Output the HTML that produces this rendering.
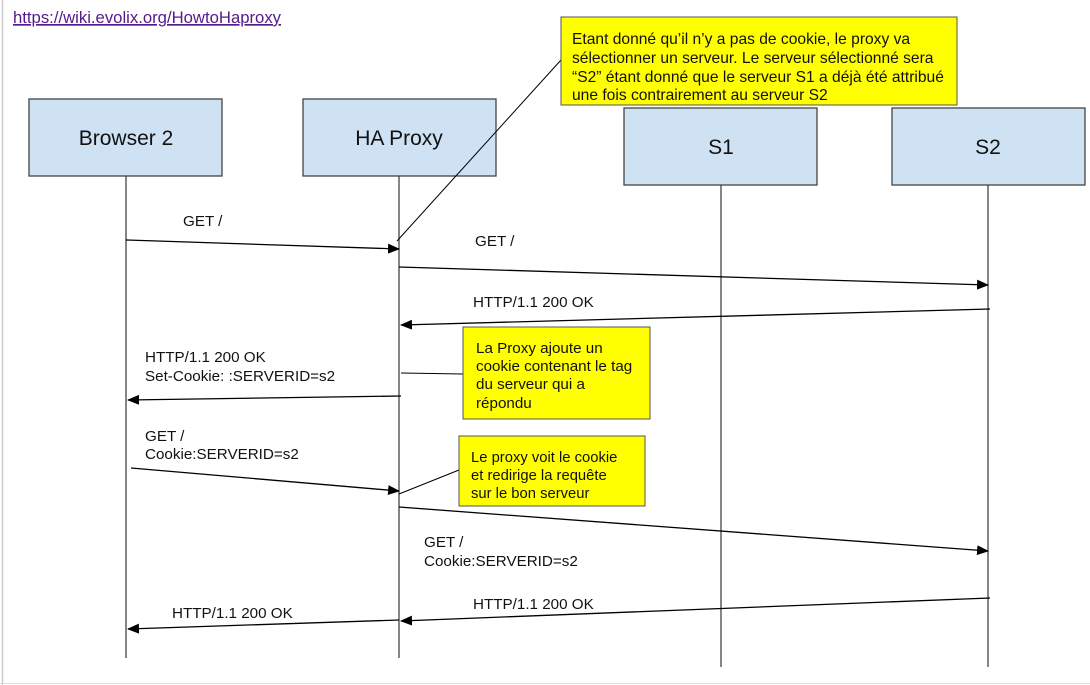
<!DOCTYPE html>
<html><head><meta charset="utf-8"><style>
body{margin:0;background:#fff;}
svg{display:block;font-family:"Liberation Sans",sans-serif;}
</style></head><body>
<svg width="1090" height="685" viewBox="0 0 1090 685">
<defs><marker id="a" markerWidth="12" markerHeight="10" refX="11" refY="5" orient="auto" markerUnits="userSpaceOnUse"><path d="M0,0 L12,5 L0,10 z" fill="#000"/></marker></defs>
<line x1="2.5" y1="0" x2="2.5" y2="685" stroke="#ccc" stroke-width="1.5"/>
<line x1="0" y1="683.5" x2="1090" y2="683.5" stroke="#ddd"/>
<text x="13" y="23" font-size="16.7" fill="#551a8b" text-decoration="underline">https://wiki.evolix.org/HowtoHaproxy</text>
<g stroke="#444" stroke-width="1.3">
<line x1="126" y1="176" x2="126" y2="658"/>
<line x1="399" y1="176" x2="399" y2="658"/>
<line x1="721" y1="185" x2="721" y2="667"/>
<line x1="988" y1="185" x2="988" y2="667"/>
</g>
<g fill="#cfe2f3" stroke="#444" stroke-width="1.3">
<rect x="29" y="99" width="193" height="77"/>
<rect x="303" y="99" width="193" height="77"/>
<rect x="624" y="108" width="193" height="77"/>
<rect x="892" y="108" width="193" height="77"/>
</g>
<g font-size="21" text-anchor="middle" fill="#111">
<text x="126" y="145">Browser 2</text>
<text x="399" y="145">HA Proxy</text>
<text x="721" y="154">S1</text>
<text x="988" y="154">S2</text>
</g>
<line x1="397" y1="241" x2="561" y2="60" stroke="#000"/>
<rect x="561" y="17" width="396" height="88" fill="#ffff00" stroke="#555"/>
<g font-size="15.6" fill="#111">
<text x="572" y="44">Etant donné qu’il n’y a pas de cookie, le proxy va</text>
<text x="572" y="63">sélectionner un serveur. Le serveur sélectionné sera</text>
<text x="572" y="82">“S2” étant donné que le serveur S1 a déjà été attribué</text>
<text x="572" y="100">une fois contrairement au serveur S2</text>
</g>
<g stroke="#000" stroke-width="1.3" marker-end="url(#a)">
<line x1="126" y1="240" x2="399" y2="249"/>
<line x1="399" y1="267" x2="988" y2="285"/>
<line x1="990" y1="309" x2="401" y2="325"/>
<line x1="401" y1="396" x2="128" y2="400"/>
<line x1="131" y1="468" x2="399" y2="491"/>
<line x1="399" y1="507" x2="988" y2="551"/>
<line x1="990" y1="598" x2="401" y2="621"/>
<line x1="399" y1="620" x2="128" y2="629"/>
</g>
<line x1="401" y1="373" x2="463" y2="374" stroke="#000"/>
<line x1="399" y1="494" x2="459" y2="470" stroke="#000"/>
<rect x="463" y="327" width="187" height="92" fill="#ffff00" stroke="#555"/>
<rect x="459" y="436" width="186" height="70" fill="#ffff00" stroke="#555"/>
<g font-size="15.2" fill="#111">
<text x="183" y="226">GET /</text>
<text x="475" y="246">GET /</text>
<text x="473" y="307">HTTP/1.1 200 OK</text>
<text x="145" y="362">HTTP/1.1 200 OK</text>
<text x="145" y="381">Set-Cookie: :SERVERID=s2</text>
<text x="145" y="441">GET /</text>
<text x="145" y="459">Cookie:SERVERID=s2</text>
<text x="424" y="547">GET /</text>
<text x="424" y="566">Cookie:SERVERID=s2</text>
<text x="473" y="609">HTTP/1.1 200 OK</text>
<text x="172" y="618">HTTP/1.1 200 OK</text>
<text x="476" y="353">La Proxy ajoute un</text>
<text x="476" y="371">cookie contenant le tag</text>
<text x="476" y="389">du serveur qui a</text>
<text x="476" y="408">répondu</text>
</g>
<g font-size="14.8" fill="#111">
<text x="471" y="462">Le proxy voit le cookie</text>
<text x="471" y="480">et redirige la requête</text>
<text x="471" y="498">sur le bon serveur</text>
</g>
</svg>
</body></html>
